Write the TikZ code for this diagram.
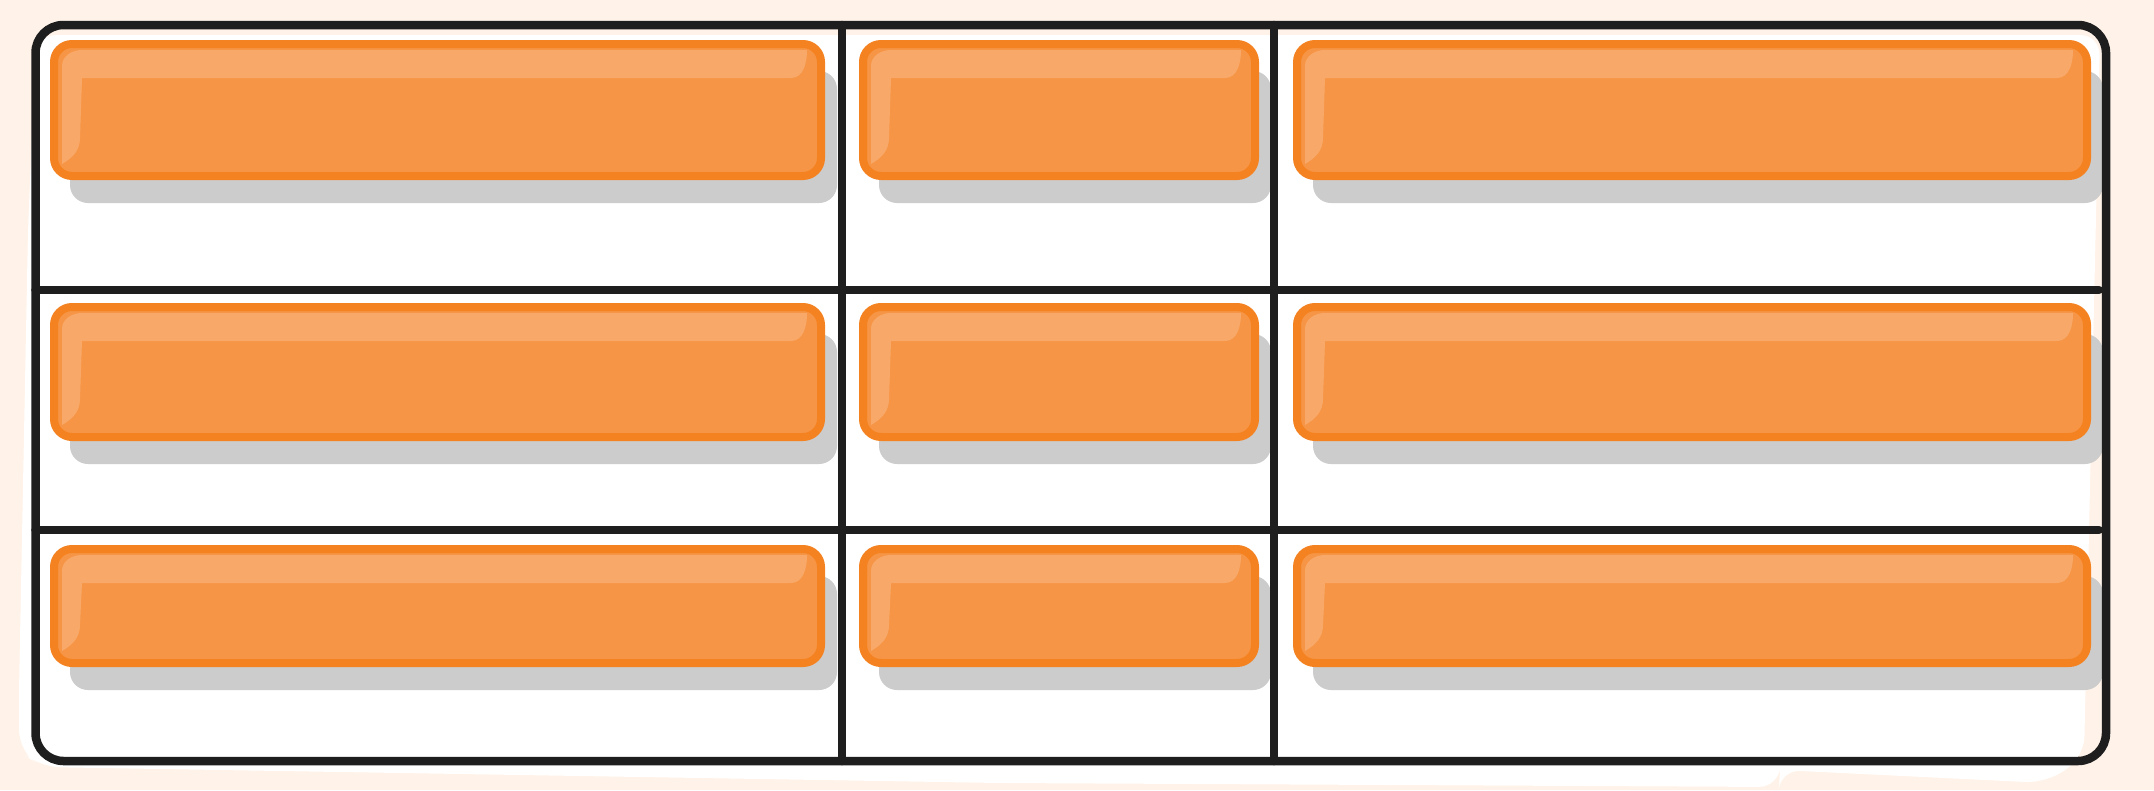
\documentclass[tikz,border=0pt]{standalone}
\usepackage{tikz}
\usetikzlibrary{positioning,calc,shadows}

\definecolor{cream}{HTML}{FFF2E8}
\definecolor{ink}{HTML}{1E1E1E}
\definecolor{boxfill}{HTML}{F69545}
\definecolor{boxline}{HTML}{F58220}
\definecolor{glossfill}{HTML}{F8A96A}
\definecolor{shade}{HTML}{CCCCCC}

\begin{document}
\begin{tikzpicture}[
    node distance=0.34cm,
    cellbox/.style={rectangle, draw=boxline, fill=boxfill, line width=0.08cm, rounded corners=0.18cm, inner sep=0pt, minimum height=1.32cm, drop shadow={shadow xshift=0.16cm, shadow yshift=-0.27cm, fill=shade, opacity=1}},
    gloss/.style={fill=glossfill},
    tableframe/.style={rectangle, draw=ink, line width=0.085cm, rounded corners=0.28cm, inner sep=0pt, outer sep=0pt, minimum width=20.705cm, minimum height=7.36cm},
    gridline/.style={draw=ink, line width=0.085cm, line cap=round}
]

\useasboundingbox (0,0) rectangle (21.54,7.90);
\fill[cream] (0,0) rectangle (21.54,7.90);

% Paper under the table
\fill[white, rounded corners=0.2cm] (0.36,7.55) -- (0.28,5.60) -- (0.19,1.00) -- (0.19,0.40) -- (0.40,0.23)
    -- (10.00,0.07) -- (17.79,0.03) -- (17.80,0.20) -- (20.46,0.07) -- (20.84,0.33) -- (21.00,7.55) -- cycle;

% Row 1
\node[cellbox, minimum width=7.67cm] (r1c1) at (4.375,6.80) {};
\node[cellbox, minimum width=3.92cm, right=of r1c1] (r1c2) {};
\node[cellbox, minimum width=7.90cm, right=of r1c2] (r1c3) {};

% Row 2
\node[cellbox, minimum width=7.67cm, minimum height=1.30cm, below=1.23cm of r1c1] (r2c1) {};
\node[cellbox, minimum width=3.92cm, minimum height=1.30cm, right=of r2c1] (r2c2) {};
\node[cellbox, minimum width=7.90cm, minimum height=1.30cm, right=of r2c2] (r2c3) {};

% Row 3
\node[cellbox, minimum width=7.67cm, minimum height=1.14cm, below=1.04cm of r2c1] (r3c1) {};
\node[cellbox, minimum width=3.92cm, minimum height=1.14cm, right=of r3c1] (r3c2) {};
\node[cellbox, minimum width=7.90cm, minimum height=1.14cm, right=of r3c2] (r3c3) {};

% Highlights
\foreach \b in {r1c1,r1c2,r1c3,r2c1,r2c2,r2c3,r3c1,r3c2,r3c3}
  \fill[gloss] ($(\b.south west)+(0.12,0.16)$) -- ($(\b.north west)+(0.12,-0.26)$)
    to[out=90,in=180] ($(\b.north west)+(0.32,-0.10)$)
    -- ($(\b.north east)+(-0.18,-0.10)$)
    to[out=-90,in=0] ($(\b.north east)+(-0.34,-0.38)$)
    -- ($(\b.north west)+(0.32,-0.38)$)
    -- ($(\b.south west)+(0.30,0.42)$)
    to[out=-90,in=30] cycle;

% Table frame and rules
\node[tableframe] (table) at (10.7075,3.97) {};
\coordinate (colA) at (8.42,0);
\coordinate (colB) at (12.74,0);
\coordinate (rowA) at (0,5.00);
\coordinate (rowB) at (0,2.60);
\draw[gridline] (colA |- table.north) -- (colA |- table.south);
\draw[gridline] (colB |- table.north) -- (colB |- table.south);
\draw[gridline] (rowA -| table.west) -- ($(rowA -| table.east)+(-0.07,0)$);
\draw[gridline] (rowB -| table.west) -- ($(rowB -| table.east)+(-0.07,0)$);

\end{tikzpicture}
\end{document}
